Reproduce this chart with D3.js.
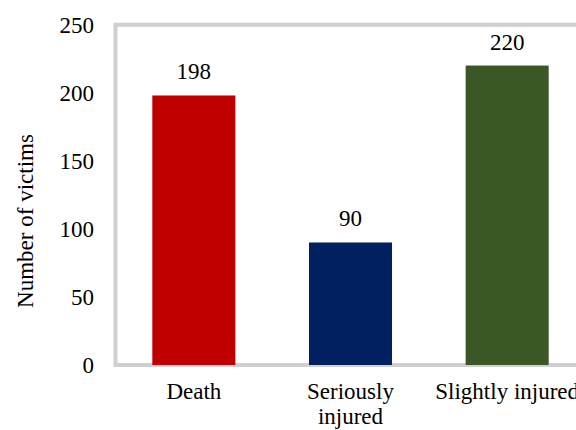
<!DOCTYPE html>
<html>
<head>
<meta charset="utf-8">
<script src="https://cdn.jsdelivr.net/npm/d3@7"></script>
<style>
  html, body { margin: 0; padding: 0; background: #fff; }
  svg { display: block; }
  text { font-family: "Liberation Serif", "Times New Roman", serif; fill: #000; }
</style>
</head>
<body>
<svg id="chart" width="576" height="430"></svg>
<script>
// Victims by injury severity
const categories = ["Death", "Seriously injured", "Slightly injured"];
const victims = [198, 90, 220];
const barColors = ["#c00000", "#002060", "#3a5726"];
const yTicks = [0, 50, 100, 150, 200, 250];
const yTitle = "Number of victims";

const svg = d3.select("#chart");
const fontSize = 23;
const serif = '"Liberation Serif", "Times New Roman", serif';

const plot = { left: 115.5, top: 24.7, bottom: 365, right: 585.5 };

const x = d3.scaleBand()
  .domain(categories)
  .range([plot.left, plot.right])
  .paddingInner(0.47)
  .paddingOuter(0.235);

const y = d3.scaleLinear()
  .domain([0, 250])
  .range([plot.bottom, plot.top]);

// Plot-area frame: open on the right, running past the edge of the page
svg.append("path")
  .attr("d", `M${plot.right + 20},${plot.top} H${plot.left} V${plot.bottom} H${plot.right + 20}`)
  .attr("fill", "none")
  .attr("stroke", "#d0d0d0")
  .attr("stroke-width", 4);

// Bars
svg.append("g").selectAll("rect")
  .data(categories)
  .join("rect")
  .attr("x", d => x(d))
  .attr("width", x.bandwidth())
  .attr("y", (d, i) => y(victims[i]))
  .attr("height", (d, i) => y(0) - y(victims[i]))
  .attr("fill", (d, i) => barColors[i]);

// Value labels above bars
svg.append("g").selectAll("text")
  .data(categories)
  .join("text")
  .attr("x", d => x(d) + x.bandwidth() / 2)
  .attr("y", (d, i) => y(victims[i]) - 16)
  .attr("text-anchor", "middle")
  .style("font-family", serif)
  .style("font-size", fontSize + "px")
  .text((d, i) => victims[i]);

// Y axis tick labels (no axis line or tick marks drawn)
const yAxis = d3.axisLeft(y).tickValues(yTicks).tickSize(0).tickPadding(0);
const yg = svg.append("g")
  .attr("transform", `translate(94,0)`)
  .call(yAxis);
yg.attr("font-family", null).attr("font-size", null);
yg.select(".domain").remove();
yg.selectAll("text")
  .style("font-size", fontSize + "px")
  .style("font-family", serif)
  .attr("fill", "#000");

// X axis category labels, wrapped to the band width
const xAxis = d3.axisBottom(x).tickSize(0).tickPadding(0);
const xg = svg.append("g")
  .attr("transform", `translate(0,${plot.bottom})`)
  .call(xAxis);
xg.attr("font-family", null).attr("font-size", null);
xg.select(".domain").remove();
xg.selectAll("text")
  .style("font-size", fontSize + "px")
  .style("font-family", serif)
  .attr("fill", "#000")
  .attr("y", 0)
  .attr("dy", null)
  .each(function (d) {
    const t = d3.select(this);
    const words = d.split(" ");
    t.text(null);
    const maxW = x.step() - 4;
    const lines = [[]];
    const probe = t.append("tspan");
    words.forEach(w => {
      const cur = lines[lines.length - 1];
      probe.text(cur.concat(w).join(" "));
      if (cur.length && probe.node().getComputedTextLength() > maxW) {
        lines.push([w]);
      } else {
        cur.push(w);
      }
    });
    probe.remove();
    lines.forEach((ln, i) => {
      t.append("tspan")
        .attr("x", 0)
        .attr("y", 34 + i * 25)
        .text(ln.join(" "));
    });
  });

// Y axis title
svg.append("text")
  .attr("transform", `translate(33,221) rotate(-90)`)
  .attr("text-anchor", "middle")
  .style("font-family", serif)
  .style("font-size", fontSize + "px")
  .text(yTitle);
</script>
</body>
</html>
